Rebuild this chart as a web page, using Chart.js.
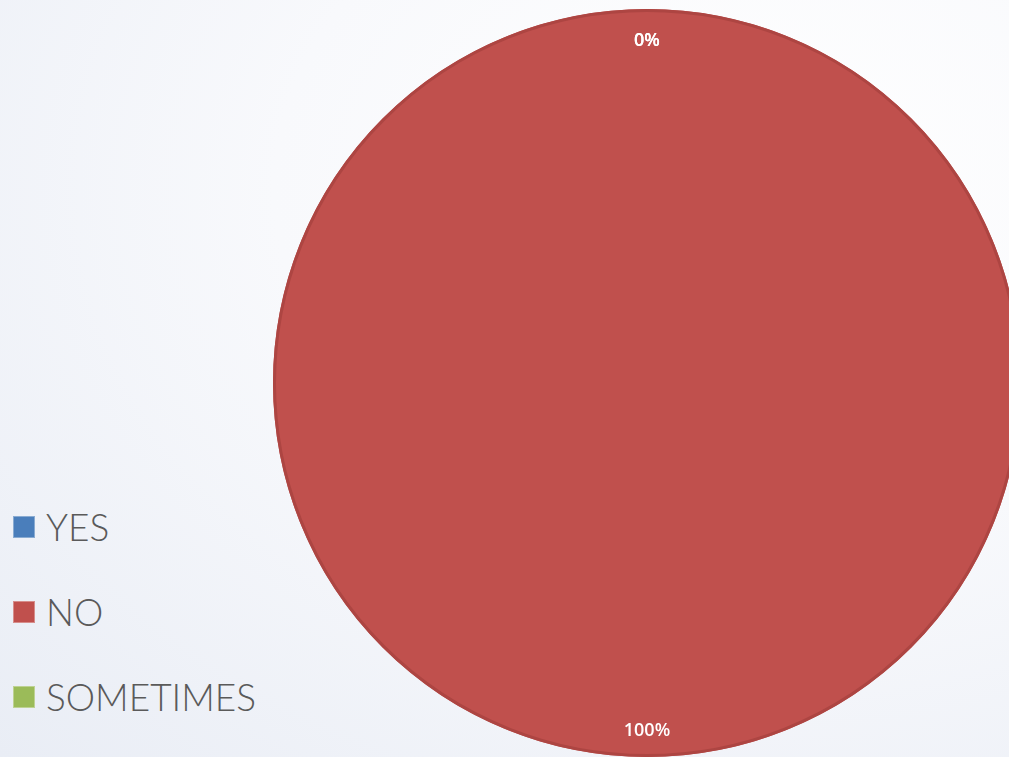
<!DOCTYPE html>
<html lang="en">
<head>
  <meta charset="UTF-8" />
  <title>Pie</title>
  <script src="https://cdn.jsdelivr.net/npm/chart.js"></script>
  <style>
    html, body { margin: 0; padding: 0; }
    body {
      width: 1009px; height: 757px; overflow: hidden; position: relative;
      background: radial-gradient(ellipse at 75% 25%, #ffffff 0%, #f8f9fc 45%, #e9edf5 100%);
      font-family: Lato, "Open Sans", sans-serif;
    }
    #pie { position: absolute; left: 273px; top: 9px; }
    #legend { position: absolute; left: 13px; top: 484px; }
    .item { display: flex; align-items: center; height: 85px; color: #5a5a5a; font-size: 37px; font-weight: 300; }
    .box { width: 20px; height: 20px; margin-right: 11px; border: 1px solid rgba(255,255,255,0.35); }
  </style>
</head>
<body>
  <canvas id="pie" width="748" height="748"></canvas>
  <div id="legend"></div>

<script>
  const labels = ['YES', 'NO', 'SOMETIMES'];
  const values = [0, 100, 0];
  const colors = ['#4a7ebb', '#c0504d', '#9bbb59'];

  const legend = document.getElementById('legend');
  labels.forEach((l, i) => {
    const row = document.createElement('div');
    row.className = 'item';
    row.innerHTML = `<span class="box" style="background:${colors[i]}"></span>${l}`;
    legend.appendChild(row);
  });

  // outer rim + percentage labels near the outer edge of each slice
  const pctLabels = {
    id: 'pctLabels',
    afterDatasetsDraw(chart) {
      const c = chart.ctx;
      const total = values.reduce((a, b) => a + b, 0);
      const arcs = chart.getDatasetMeta(0).data;
      c.save();
      const a0 = arcs[0].getProps(['x', 'y', 'outerRadius'], true);
      c.strokeStyle = '#ad4542';
      c.lineWidth = 3;
      c.beginPath();
      c.arc(a0.x, a0.y, a0.outerRadius - 1.5, 0, Math.PI * 2);
      c.stroke();

      c.fillStyle = '#ffffff';
      c.font = '600 18px "Open Sans", sans-serif';
      c.textAlign = 'center';
      c.textBaseline = 'middle';
      arcs.forEach((arc, i) => {
        const p = arc.getProps(['x', 'y', 'startAngle', 'endAngle', 'outerRadius'], true);
        const mid = (p.startAngle + p.endAngle) / 2;
        const r = p.outerRadius * 0.922;
        const txt = Math.round(values[i] / total * 100) + '%';
        c.fillText(txt, p.x + Math.cos(mid) * r, p.y + Math.sin(mid) * r + 3);
      });
      c.restore();
    }
  };

  new Chart(document.getElementById('pie'), {
    type: 'pie',
    data: {
      labels: labels,
      datasets: [{
        data: values,
        backgroundColor: colors,
        borderWidth: 0
      }]
    },
    options: {
      responsive: false,
      animation: false,
      layout: { padding: 0 },
      plugins: { legend: { display: false }, tooltip: { enabled: false } }
    },
    plugins: [pctLabels]
  });
</script>
</body>
</html>
